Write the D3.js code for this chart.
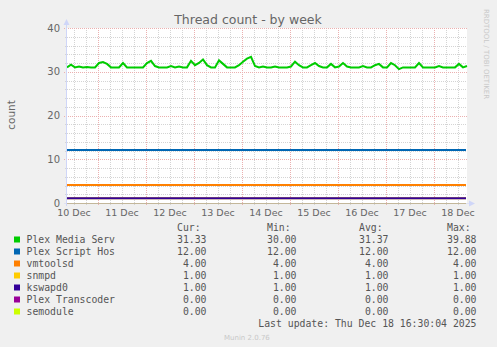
<!DOCTYPE html>
<html>
<head>
<meta charset="utf-8">
<script src="https://cdn.jsdelivr.net/npm/d3@7"></script>
<style>
  body { margin: 0; background: #f0f0f0; }
  svg { display: block; }
</style>
</head>
<body>
<div id="thread-count"></div>
<script>
// ---- data ----
const seriesNames = ["Plex Media Serv", "Plex Script Hos", "vmtoolsd", "snmpd", "kswapd0", "Plex Transcoder", "semodule"];
const seriesColors = ["#00cc00", "#0066b3", "#ff8000", "#ffcc00", "#330099", "#990099", "#ccff00"];
// constant series (everything except Plex Media Serv)
const constValues = [12, 4, 1, 1, 0, 0];
// Plex Media Serv, one sample every 2 hours over the week window
const plexMedia = [
  31.0, 31.6, 31.0, 31.2, 31.0, 31.1, 31.0, 31.0, 32.0, 32.2,
  31.8, 31.0, 31.0, 31.0, 32.0, 31.0, 31.0, 31.0, 31.0, 31.0,
  32.0, 32.5, 31.3, 31.0, 31.0, 31.0, 31.3, 31.0, 31.2, 31.0,
  31.0, 32.5, 31.5, 32.0, 32.8, 31.5, 31.0, 31.0, 32.6, 31.8,
  31.0, 31.0, 31.0, 31.5, 32.3, 33.0, 33.4, 31.3, 31.0, 31.2,
  31.0, 31.0, 31.2, 31.0, 31.0, 31.0, 31.2, 32.3, 31.5, 31.0,
  31.0, 31.5, 32.0, 31.3, 31.0, 31.0, 31.8, 31.0, 31.2, 32.0,
  31.2, 31.0, 31.0, 31.0, 31.3, 31.0, 31.0, 31.5, 31.8, 31.0,
  31.0, 32.0, 31.5, 30.6, 31.0, 31.0, 31.0, 31.0, 32.0, 31.0,
  31.0, 31.0, 31.0, 31.3, 31.0, 31.0, 31.0, 31.0, 31.8, 31.0,
  31.3
];
const curVals = ["31.33", "12.00", "4.00", "1.00", "1.00", "0.00", "0.00"];
const minVals = ["30.00", "12.00", "4.00", "1.00", "1.00", "0.00", "0.00"];
const avgVals = ["31.37", "12.00", "4.00", "1.00", "1.00", "0.00", "0.00"];
const maxVals = ["39.88", "12.00", "4.00", "1.00", "1.00", "0.00", "0.00"];
const yTicks = [0, 10, 20, 30, 40];
const dayLabels = ["10 Dec", "11 Dec", "12 Dec", "13 Dec", "14 Dec", "15 Dec", "16 Dec", "17 Dec", "18 Dec"];
const lastUpdate = "Last update: Thu Dec 18 16:30:04 2025";

// ---- layout ----
const W = 497, H = 347;
const plot = { left: 67, right: 467, top: 28, bottom: 203 };
const endTime = new Date(2025, 11, 18, 16, 30);
const startTime = new Date(endTime.getTime() - 200 * 3600 * 1000);
const fontSans = "DejaVu Sans, sans-serif";
const fontMono = "DejaVu Sans Mono, monospace";

const svg = d3.select("#thread-count")
    .append("svg")
    .attr("width", W)
    .attr("height", H);

svg.append("rect").attr("width", W).attr("height", H).attr("fill", "#f0f0f0");

const x = d3.scaleTime().domain([startTime, endTime]).range([plot.left, plot.right]);
const y = d3.scaleLinear().domain([0, 40]).range([plot.bottom, plot.top]);

// canvas
svg.append("rect")
    .attr("x", plot.left).attr("y", plot.top)
    .attr("width", plot.right - plot.left).attr("height", plot.bottom - plot.top)
    .attr("fill", "#ffffff");

// minor grid
const grid = svg.append("g").attr("shape-rendering", "crispEdges");
const minorTimes = d3.timeHour.every(6).range(startTime, endTime)
    .filter(d => d.getHours() !== 0);
grid.selectAll(".vminor").data(minorTimes).join("line")
    .attr("x1", d => Math.round(x(d)) + 0.5).attr("x2", d => Math.round(x(d)) + 0.5)
    .attr("y1", plot.top).attr("y2", plot.bottom + 2)
    .attr("stroke", "#d4d4d4").attr("stroke-dasharray", "1,1");
const minorY = d3.range(2, 40, 2).filter(v => v % 10 !== 0);
grid.selectAll(".hminor").data(minorY).join("line")
    .attr("y1", d => Math.round(y(d)) + 0.5).attr("y2", d => Math.round(y(d)) + 0.5)
    .attr("x1", plot.left - 2).attr("x2", plot.right)
    .attr("stroke", "#d4d4d4").attr("stroke-dasharray", "1,1");

// major grid
const majorTimes = d3.timeDay.range(startTime, endTime);
grid.selectAll(".vmajor").data(majorTimes).join("line")
    .attr("x1", d => Math.round(x(d)) + 0.5).attr("x2", d => Math.round(x(d)) + 0.5)
    .attr("y1", plot.top).attr("y2", plot.bottom + 3)
    .attr("stroke", "#ebb0b0").attr("stroke-dasharray", "1,1");
grid.selectAll(".hmajor").data(yTicks.filter(v => v > 0)).join("line")
    .attr("y1", d => Math.round(y(d)) + 0.5).attr("y2", d => Math.round(y(d)) + 0.5)
    .attr("x1", plot.left - 3).attr("x2", plot.right)
    .attr("stroke", "#ebb0b0").attr("stroke-dasharray", "1,1");

// y tick labels
svg.append("g").selectAll("text").data(yTicks).join("text")
    .attr("x", 60).attr("y", d => y(d) + 3.5)
    .attr("text-anchor", "end")
    .style("font-family", fontSans).style("font-size", "10px")
    .attr("fill", "#666666")
    .text(d => d);

// x tick labels (at noon of each day)
svg.append("g").selectAll("text").data(dayLabels).join("text")
    .attr("x", d => x(new Date(2025, 11, +d.split(" ")[0], 12)))
    .attr("y", 216)
    .attr("text-anchor", "middle")
    .style("font-family", fontSans).style("font-size", "9.5px")
    .attr("fill", "#666666")
    .text(d => d);

// constant series lines
const constG = svg.append("g");
constValues.forEach((v, i) => {
    const last = i === constValues.length - 1;
    constG.append("line")
        .attr("x1", plot.left).attr("x2", x(endTime) - 1)
        .attr("y1", y(v) - (v > 0 ? 0.5 : -0.5)).attr("y2", y(v) - (v > 0 ? 0.5 : -0.5))
        .attr("stroke", seriesColors[i + 1])
        .attr("stroke-width", v > 0 ? 2 : 1)
        .attr("opacity", last ? 0.6 : 1);
});

// Plex Media Serv line
const line = d3.line()
    .x((d, i) => x(new Date(startTime.getTime() + i * 2 * 3600 * 1000)))
    .y(d => y(d));
svg.append("path")
    .datum(plexMedia)
    .attr("fill", "none")
    .attr("stroke", seriesColors[0])
    .attr("stroke-width", 2)
    .attr("stroke-linejoin", "miter")
    .attr("d", line);

// axes
const axisColor = "#cfd6f8";
svg.append("line")
    .attr("x1", plot.left - 0.5).attr("x2", plot.left - 0.5)
    .attr("y1", plot.bottom + 3).attr("y2", plot.top - 4)
    .attr("stroke", axisColor);
svg.append("line")
    .attr("x1", plot.left - 3).attr("x2", plot.right + 3)
    .attr("y1", plot.bottom + 0.5).attr("y2", plot.bottom + 0.5)
    .attr("stroke", axisColor).attr("opacity", 0.5);
svg.append("path")
    .attr("d", `M${plot.left - 3.5},${plot.top - 3} L${plot.left - 0.5},${plot.top - 9} L${plot.left + 2.5},${plot.top - 3} Z`)
    .attr("fill", axisColor);
svg.append("path")
    .attr("d", `M${plot.right + 2},${plot.bottom - 2.5} L${plot.right + 8},${plot.bottom + 0.5} L${plot.right + 2},${plot.bottom + 3.5} Z`)
    .attr("fill", axisColor);

// title
svg.append("text")
    .attr("x", 248).attr("y", 24)
    .attr("text-anchor", "middle")
    .style("font-family", fontSans).style("font-size", "12.5px")
    .attr("fill", "#666666")
    .text("Thread count - by week");

// y axis label
svg.append("text")
    .attr("transform", "translate(15,115) rotate(-90)")
    .attr("text-anchor", "middle")
    .style("font-family", fontSans).style("font-size", "10.5px")
    .attr("fill", "#666666")
    .text("count");

// rrdtool watermark
svg.append("text")
    .attr("transform", "translate(484,54) rotate(90)")
    .attr("text-anchor", "middle")
    .style("font-family", fontSans).style("font-size", "7px")
    .attr("fill", "#c8c8c8")
    .text("RRDTOOL / TOBI OETIKER");

// legend
const legend = svg.append("g").style("font-family", fontMono).style("font-size", "9.8px").attr("fill", "#555555");
const cols = [
    { head: "Cur:", x: 206.5, vals: curVals },
    { head: "Min:", x: 296.5, vals: minVals },
    { head: "Avg:", x: 388.5, vals: avgVals },
    { head: "Max:", x: 476.5, vals: maxVals }
];
const rowY = i => 243 + i * 12;
cols.forEach(c => {
    legend.append("text").attr("x", c.x - 29.5).attr("y", 231).text(c.head);
    legend.selectAll(null).data(c.vals).join("text")
        .attr("x", c.x).attr("y", (d, i) => rowY(i))
        .attr("text-anchor", "end")
        .text(d => d);
});
legend.selectAll(".sw").data(seriesNames).join("rect")
    .attr("x", 14).attr("y", (d, i) => rowY(i) - 6.5)
    .attr("width", 6).attr("height", 6)
    .attr("fill", (d, i) => seriesColors[i]);
legend.selectAll(".nm").data(seriesNames).join("text")
    .attr("x", 26.5).attr("y", (d, i) => rowY(i))
    .text(d => d);
legend.append("text")
    .attr("x", 476.5).attr("y", 326.5)
    .attr("text-anchor", "end")
    .text(lastUpdate);

// munin version
svg.append("text")
    .attr("x", 224).attr("y", 339.5)
    .style("font-family", fontSans).style("font-size", "7px")
    .attr("fill", "#c8c8c8")
    .text("Munin 2.0.76");
</script>
</body>
</html>
